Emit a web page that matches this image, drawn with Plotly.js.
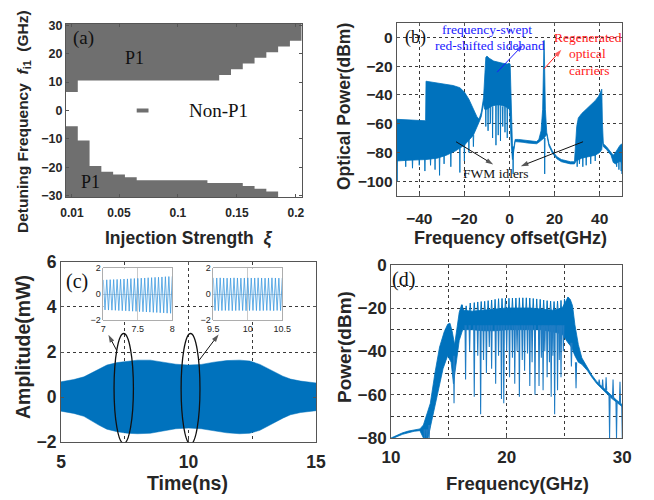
<!DOCTYPE html>
<html><head><meta charset="utf-8">
<script src="https://cdn.plot.ly/plotly-3.0.1.min.js"></script>
<style>html,body{margin:0;padding:0;background:#fff}#chart{width:654px;height:500px}</style>
</head><body><div id="chart"></div>
<script>
// ---------- (a) P1 map: injection strength columns and P1 region edges (GHz)
const xiCols = [0.01,0.02,0.03,0.04,0.05,0.06,0.07,0.08,0.09,0.10,0.11,0.12,0.13,0.14,0.15,0.16,0.17,0.18,0.19,0.20];
const p1UpperEdge = [6.5,10.5,10.5,10.5,10.5,10.5,10.5,10.5,10.5,10.5,10.5,10.5,10.5,12.5,14.5,16.5,18.5,20.5,22.5,24.5];
const p1LowerEdge = [-5.5,-10.5,-19.5,-21.5,-22.5,-23.5,-24.5,-24.5,-24.5,-24.5,-24.5,-24.5,-25.5,-25.5,-25.5,-26.5,-27.5,-28.5,-30.5,-30.5];
const p1IsleXi = 0.07, p1IsleF = 0;
const fLimit = 30.5;

// ---------- (b) optical spectrum envelopes (GHz, dBm)
const bUpX = [-50,-45,-40,-37.2,-37,-35,-32,-28,-25,-22,-20,-18,-16,-14.5,-13.5,-12.5,-11.5,-11,-10.5,-10,-9,-7,-5,-3,-1,0,0.3,0.8,1.3,1.8,2.5,4,6,8,10,12,13,14,14.7,15.1,15.3,15.5,15.9,16.5,17.5,19,21,23,25,27,28.8,29.2,29.8,30.5,32,34,36,38,39.5,40.5,40.9,41.2,41.6,43,45,46,47,48,49,50];
const bUpY = [-57,-57.5,-58,-58,-30.5,-31,-32,-33,-33.5,-35,-38,-43,-50,-55,-57,-52,-42,-22,-14,-13,-14.5,-16.5,-17.5,-18,-18.5,-18,-19,-55,-75,-78,-71,-71,-71.5,-72,-72.5,-72.5,-71,-65,-50,-15,-2,-15,-50,-66,-74,-79,-83,-85,-86,-86.5,-86.5,-75,-62,-56,-53,-50,-47,-44,-41,-37,-36,-60,-74,-76,-80,-82,-80,-77,-75,-74];
const bLoX = [-50,-45,-40,-37.2,-37,-32,-28,-24,-20,-16,-14,-13.5,-12.5,-11.5,-11,-10,-8,-6,-4,-2,0,0.3,0.8,1.3,1.8,2.5,4,6,8,10,12,13,14,15.3,16.5,17.5,19,21,23,25,27,28.8,29.5,32,35,38,40,40.9,41.2,41.6,43,45,46,47,48,49,50];
const bLoY = [-86,-85.5,-85,-85,-85,-84,-82,-79,-75,-68,-61,-59,-55,-46,-50,-50,-48,-47,-47,-48,-50,-60,-75,-85,-80,-72.5,-72.5,-73,-73.5,-74,-74,-73,-72,-70,-67.5,-75.5,-80.5,-84.5,-86.5,-87.5,-88,-88,-86,-84,-83,-82,-80,-78,-72,-76,-78,-82,-87,-88,-87,-86,-88];
const bSpikeX = [-49.8,-46,-43,-40,-37.5,-35,-33,-31,-29,-26,-22,-20,-18,-16,-10.5,-9.5,-8.5,-7.5,-6,-5,-4,-3,-2,-1,1.6,15.6,30,31,32.5,34,36,38,47.5,48.5,49.5,49.9];
const bSpikeTip = [-100,-90,-91,-89,-93,-89,-92,-96,-88,-90,-94,-86,-80,-76,-62,-65,-60,-70,-75,-68,-72,-62,-66,-70,-95,-95,-90,-88,-90,-89,-88,-86,-90,-92,-93,-95];
const bSpikeBase = [-84,-84,-84,-84,-84,-83,-83,-82,-81,-80,-76,-74,-71,-68,-48,-48,-48,-48,-47,-47,-47,-48,-48,-49,-76,-70,-84,-84,-83,-83,-82,-81,-86,-85,-84,-84];

// ---------- (c) time-domain envelope (ns, mW) and inset samples
const cEnvX = [5,5.5,5.9,6.2,6.5,6.8,7.2,7.6,8,8.5,9,9.5,10,10.5,11,11.5,12,12.4,12.8,13.1,13.4,13.7,14,14.4,15];
const cEnvTop = [0.68,0.78,0.9,1.08,1.26,1.42,1.53,1.6,1.64,1.64,1.56,1.46,1.42,1.45,1.55,1.62,1.64,1.6,1.45,1.27,1.1,0.93,0.8,0.71,0.63];
const cEnvBot = [-0.62,-0.72,-0.85,-1.05,-1.25,-1.42,-1.53,-1.6,-1.62,-1.6,-1.5,-1.4,-1.37,-1.4,-1.5,-1.58,-1.62,-1.6,-1.47,-1.3,-1.1,-0.93,-0.78,-0.68,-0.6];
const inset1T0 = 7, inset2T0 = 9.5, insetDt = 0.025;
const inset1Amp = [1.1,-1.22,1.11,-1.23,1.12,-1.24,1.13,-1.25,1.14,-1.27,1.15,-1.28,1.17,-1.29,1.18,-1.31,1.2,-1.32,1.21,-1.33,1.22,-1.35,1.24,-1.36,1.25,-1.38,1.27,-1.39,1.28,-1.41,1.3,-1.42,1.31,-1.44,1.33,-1.45,1.35,-1.47,1.36,-1.48,1.38];
const inset2Amp = [1.26,-1.27,1.25,-1.28,1.26,-1.27,1.25,-1.26,1.24,-1.27,1.25,-1.28,1.26,-1.27,1.25,-1.26,1.24,-1.27,1.25,-1.28,1.26,-1.27,1.25,-1.26,1.25,-1.27,1.26,-1.28,1.25,-1.27,1.24,-1.26,1.25,-1.27,1.26,-1.28,1.25,-1.26,1.24,-1.27,1.25];

// ---------- (d) electrical spectrum envelopes (GHz, dBm)
const dUpX = [10,10.5,11,11.5,12,12.5,12.8,13.0,13.4,13.8,14.2,14.6,14.9,15.1,15.3,15.5,15.7,15.9,16.1,16.3,17,18,19,20,21,22,23,24,24.8,25.1,25.3,25.5,25.7,25.9,26.2,26.5,27,27.35,27.8,28.22,28.6,29.08,29.5,30];
const dUpY = [-80,-78.8,-77.6,-76.8,-76.2,-75.8,-74,-71,-64,-50,-38,-31,-27.5,-27,-31,-37,-30,-22,-18.5,-21,-21.5,-21,-20.5,-20,-20,-20,-20.5,-21,-20,-17,-15,-16,-19,-27.7,-36.9,-43,-48,-50.8,-54,-56.1,-58.2,-60.7,-62.5,-64.6];
const dLoX = [10,10.5,11,11.5,12,12.5,12.8,13.2,13.5,14,14.5,14.9,15.2,15.4,15.6,15.9,16.2,17,18,19,20,21,22,23,24,24.8,25.3,25.6,25.9,26.2,26.5,27,27.35,27.8,28.22,28.6,29.08,29.5,30];
const dLoY = [-80.6,-79.4,-78.3,-77.5,-76.9,-76.6,-80,-80,-72,-60,-48,-42,-45,-55,-48,-35,-30,-30,-30.5,-30.5,-30,-30,-30,-30,-31,-32,-36,-38,-42,-45,-46,-49,-51.8,-55,-57.1,-59.2,-61.7,-63.5,-65.6];
const dPeakX = [16.15,16.5,16.85,17.2,17.5,17.8,18.1,18.4,18.7,19.0,19.3,19.6,19.9,20.2,20.5,20.8,21.1,21.4,21.7,22.0,22.3,22.6,22.9,23.2,23.5,23.8,24.1,24.4,24.7,25.0,25.3];
const dPeakTip = [-18.5,-19,-17.7,-17.5,-17.2,-17,-16.9,-16.6,-16.3,-16,-15.7,-15.6,-15.5,-15.5,-15.4,-15.4,-15.3,-15.3,-15.3,-15.4,-15.6,-15.8,-16,-16.3,-16.6,-16.8,-17,-16.8,-16.5,-15.8,-15];
const dPeakBase = [-22,-22,-22,-22,-22,-22,-22,-22,-22,-22,-22,-22,-22,-22,-22,-22,-22,-22,-22,-22,-22,-22,-22,-22,-22,-22,-22,-22,-22,-22,-22];
const dSpikeX = [12.9,13.1,13.3,15.45,16.45,16.8,17.2,17.5,17.75,18.0,18.25,18.5,18.7,19.05,19.3,19.55,19.75,20.0,20.25,20.5,20.7,20.9,21.1,21.35,21.55,21.8,22.0,22.2,22.45,22.8,23.0,23.15,23.3,23.5,23.7,23.85,24.0,24.15,24.4,24.55,24.7,24.9,25.6,26.0,28.0,28.3,28.6,28.9,29.2,29.5,29.8,30.0];
const dSpikeTip = [-80,-80,-80,-64,-53,-40,-61,-42,-69,-44,-50,-38,-48,-55,-42,-62,-64,-40,-52,-43,-55,-40,-61,-44,-49,-41,-56,-45,-60,-56,-43,-58,-40,-52,-45,-61,-42,-69,-58,-44,-52,-40,-47,-57,-53,-53,-52,-80,-53,-80,-54,-80];
const dSpikeBase = [-76,-76,-74,-42,-28,-28,-28,-28,-28,-28,-28,-28,-28,-28,-28,-28,-28,-28,-28,-28,-28,-28,-28,-28,-28,-28,-28,-28,-28,-28,-28,-28,-28,-28,-28,-28,-28,-28,-28,-28,-28,-28,-36,-45,-55,-57,-58,-60,-62,-63,-64,-65];

// ---------- helpers
const BLUE = '#0072BD', GRAY = '#6f6f6f', INK = '#262626';
const W = 654, H = 500;
const xd = (l, r) => [l / W, r / W];
const yd = (t, b) => [1 - b / H, 1 - t / H];

function band(ux, uy, lx, ly) {
  return { x: ux.concat(lx.slice().reverse()), y: uy.concat(ly.slice().reverse()) };
}
function spikes(xs, tips, bases, hw) {
  const x = [], y = [];
  xs.forEach((v, i) => { x.push(v - hw, v, v + hw, null); y.push(bases[i], tips[i], bases[i], null); });
  return { x, y };
}
function stepRegion(edges, cap) {
  const half = (xiCols[1] - xiCols[0]) / 2;
  const x = [], y = [];
  xiCols.forEach((c, i) => { x.push(c - half, c + half); y.push(edges[i], edges[i]); });
  x.push(xiCols[xiCols.length - 1] + half, xiCols[0] - half);
  y.push(cap, cap);
  return { x, y };
}

const topReg = stepRegion(p1UpperEdge, fLimit);
const botReg = stepRegion(p1LowerEdge, -fLimit);
const colHalf = (xiCols[1] - xiCols[0]) / 2;
const bBand = band(bUpX, bUpY, bLoX, bLoY);
const bSp = spikes(bSpikeX, bSpikeTip, bSpikeBase, 0.15);
const cBand = band(cEnvX, cEnvTop, cEnvX, cEnvBot);
const dBand = band(dUpX, dUpY, dLoX, dLoY);
const dSp = spikes(dSpikeX, dSpikeTip, dSpikeBase, 0.05);
const dPk = spikes(dPeakX, dPeakTip, dPeakBase, 0.06);

const traces = [
  { x: topReg.x, y: topReg.y, xaxis: 'x', yaxis: 'y', mode: 'lines', fill: 'toself', fillcolor: GRAY, line: { width: 0 }, hoverinfo: 'skip' },
  { x: botReg.x, y: botReg.y, xaxis: 'x', yaxis: 'y', mode: 'lines', fill: 'toself', fillcolor: GRAY, line: { width: 0 }, hoverinfo: 'skip' },
  { x: [p1IsleXi - colHalf, p1IsleXi + colHalf, p1IsleXi + colHalf, p1IsleXi - colHalf],
    y: [p1IsleF - 0.7, p1IsleF - 0.7, p1IsleF + 0.7, p1IsleF + 0.7],
    xaxis: 'x', yaxis: 'y', mode: 'lines', fill: 'toself', fillcolor: GRAY, line: { width: 0 }, hoverinfo: 'skip' },

  { x: bBand.x, y: bBand.y, xaxis: 'x2', yaxis: 'y2', mode: 'lines', fill: 'toself', fillcolor: BLUE, line: { color: BLUE, width: 0.8 } },
  { x: bSp.x, y: bSp.y, xaxis: 'x2', yaxis: 'y2', mode: 'lines', line: { color: BLUE, width: 0.9 } },

  { x: cBand.x, y: cBand.y, xaxis: 'x3', yaxis: 'y3', mode: 'lines', fill: 'toself', fillcolor: BLUE, line: { color: BLUE, width: 0.5 } },

  { x0: inset1T0, dx: insetDt, y: inset1Amp, xaxis: 'x5', yaxis: 'y5', mode: 'lines', line: { color: '#3f9be0', width: 0.8 } },
  { x0: inset2T0, dx: insetDt, y: inset2Amp, xaxis: 'x6', yaxis: 'y6', mode: 'lines', line: { color: '#3f9be0', width: 0.8 } },

  { x: dBand.x, y: dBand.y, xaxis: 'x4', yaxis: 'y4', mode: 'lines', fill: 'toself', fillcolor: BLUE, line: { color: BLUE, width: 0.8 } },
  { x: dPk.x, y: dPk.y, xaxis: 'x4', yaxis: 'y4', mode: 'lines', line: { color: BLUE, width: 1 } },
  { x: dSp.x, y: dSp.y, xaxis: 'x4', yaxis: 'y4', mode: 'lines', line: { color: '#1f7cc4', width: 1.1 } }
];

// arrows drawn as line traces with an oriented arrow marker at the head
function arrowTrace(xa, ya, tx, ty, hx, hy, color) {
  traces.push({ x: [tx, hx], y: [ty, hy], xaxis: xa, yaxis: ya, mode: 'lines+markers', hoverinfo: 'skip',
    line: { color, width: 1 },
    marker: { symbol: ['circle', 'arrow'], size: [0, 8], color, angleref: 'previous', line: { width: 0 } } });
}
arrowTrace('x2', 'y2', -5.5, -24.2, 6.0, -5.2, '#1a1aff');
arrowTrace('x2', 'y2', 15.3, -21.9, 23.0, -8.6, '#ff1a1a');
arrowTrace('x2', 'y2', -23.7, -72.6, -7.2, -88.4, '#111');
arrowTrace('x2', 'y2', 32.6, -72.6, 5.0, -89.6, '#111');
arrowTrace('x3', 'y3', 7.18, 2.08, 6.86, 2.76, '#111');
arrowTrace('x3', 'y3', 10.42, 1.64, 11.18, 2.78, '#111');

function ax(extra, fs) {
  return Object.assign({
    showline: true, linecolor: '#555', linewidth: 1, mirror: 'ticks',
    ticks: 'inside', ticklen: 3, tickcolor: '#555',
    zeroline: false, showgrid: false,
    tickfont: { family: 'Liberation Sans, Arial, sans-serif', size: fs, color: INK, weight: 'bold' }
  }, extra);
}
const gridOn = { showgrid: true, gridcolor: '#3a3a3a', gridwidth: 1, griddash: 'dot' };
const minorGrid = v => ({ tickvals: v, showgrid: true, gridcolor: '#3a3a3a', griddash: 'dot', ticks: '' });
const insetAx = (extra) => Object.assign({ showline: true, mirror: true, linecolor: '#999', linewidth: 0.8, ticks: '',
  showgrid: true, gridcolor: '#bdbdbd', gridwidth: 0.8, zeroline: false,
  tickfont: { family: 'Liberation Sans, Arial', size: 9, color: INK } }, extra);

const layout = {
  width: W, height: H, margin: { l: 0, r: 0, t: 0, b: 0 },
  paper_bgcolor: '#fff', plot_bgcolor: '#fff', showlegend: false,
  xaxis: ax({ domain: xd(66, 301.7), anchor: 'y', range: [0.005, 0.205], tickvals: [0.01, 0.05, 0.1, 0.15, 0.2], ticktext: ['0.01', '0.05', '0.1', '0.15', '0.2'], ticklabelstandoff: 5 }, 12),
  yaxis: ax({ domain: yd(24, 197), anchor: 'x', range: [-30.4, 30.4], tickvals: [-30, -20, -10, 0, 10, 20, 30] }, 12.5),

  xaxis2: ax(Object.assign({ domain: xd(396.7, 622.3), anchor: 'y2', range: [-50, 50], tickvals: [-40, -20, 0, 20, 40], ticklabelstandoff: 9 }, gridOn), 15.5),
  yaxis2: ax(Object.assign({ domain: yd(23, 195.5), anchor: 'x2', range: [-110, 10], tickvals: [-100, -80, -60, -40, -20, 0] }, gridOn), 15.5),

  xaxis3: ax(Object.assign({ domain: xd(61, 316), anchor: 'y3', range: [5, 15], tickvals: [5, 10, 15], minor: minorGrid([7.5, 12.5]), ticklabelstandoff: 4 }, gridOn), 17.5),
  yaxis3: ax(Object.assign({ domain: yd(261.7, 442.3), anchor: 'x3', range: [-2, 6], tickvals: [-2, 0, 2, 4, 6] }, gridOn), 17.5),

  xaxis4: ax(Object.assign({ domain: xd(391, 622.3), anchor: 'y4', range: [10, 30], tickvals: [10, 20, 30], minor: minorGrid([15, 25]), ticklabelstandoff: 4 }, gridOn), 17),
  yaxis4: ax(Object.assign({ domain: yd(264.7, 438), anchor: 'x4', range: [-80, 0], tickvals: [-80, -60, -40, -20, 0], minor: minorGrid([-70, -50, -30, -10]) }, gridOn), 17),

  xaxis5: insetAx({ domain: xd(103.3, 172.3), anchor: 'y5', range: [7, 8], tickvals: [7, 7.5, 8] }),
  yaxis5: insetAx({ domain: yd(268.3, 320), anchor: 'x5', range: [-2, 2], tickvals: [-2, 0, 2] }),
  xaxis6: insetAx({ domain: xd(213.3, 282.3), anchor: 'y6', range: [9.5, 10.5], tickvals: [9.5, 10, 10.5] }),
  yaxis6: insetAx({ domain: yd(268.3, 320), anchor: 'x6', range: [-2, 2], tickvals: [-2, 0, 2] }),

  shapes: [
    { type: 'circle', xref: 'x3', yref: 'y3', x0: 7.08, x1: 7.84, y0: -2.05, y1: 2.82, line: { color: '#111', width: 1.3 } },
    { type: 'circle', xref: 'x3', yref: 'y3', x0: 9.71, x1: 10.45, y0: -2.08, y1: 2.82, line: { color: '#111', width: 1.3 } }
  ],
  annotations: []
};

const serif = 'Liberation Serif, Times New Roman, serif';
const sans = 'Liberation Sans, Arial, sans-serif';
const A = layout.annotations;
function txt(xref, yref, x, y, text, size, color) {
  A.push({ xref, yref, x, y, text, showarrow: false, font: { family: serif, size, color } });
}
function title(px, py, text, size, angle) {
  A.push({ xref: 'paper', yref: 'paper', x: px / W, y: 1 - py / H, text, showarrow: false, textangle: angle || 0,
           xanchor: 'center', yanchor: 'middle', font: { family: sans, size, color: INK, weight: 'bold' } });
}
const ital = (s, size) => '<span style="font-style:italic;font-size:' + size + 'px">' + s + '</span>';

// (a) labels
txt('x', 'y', 0.0197, 25.4, '(a)', 19, '#111');
txt('x', 'y', 0.0627, 18.4, 'P1', 18, '#111');
txt('x', 'y', 0.0254, -25.3, 'P1', 18, '#111');
txt('x', 'y', 0.134, 0, 'Non-P1', 19, '#111');
// (b) labels
txt('x2', 'y2', -41.5, 0, '(b)', 18, '#111');
txt('x2', 'y2', -10, 5.6, 'frequency-swept', 13.5, '#1a1aff');
txt('x2', 'y2', -8.6, -5.5, 'red-shifted sideband', 13.5, '#1a1aff');
txt('x2', 'y2', 34.6, 0.2, 'Regenerated', 13.5, '#ff1a1a');
txt('x2', 'y2', 34.6, -11.3, 'optical', 13.5, '#ff1a1a');
txt('x2', 'y2', 35.2, -23, 'carriers', 13.5, '#ff1a1a');
txt('x2', 'y2', -6, -95, 'FWM idlers', 13.5, '#111');
// (c) / (d) labels
txt('x3', 'y3', 5.62, 5.12, '(c)', 20, '#111');
txt('x4', 'y4', 11.05, -7, '(d)', 20, '#111');

// axis titles
title(23, 122, 'Detuning Frequency  ' + ital('f', 15.5) + '<sub>i1</sub>  (GHz)', 15.5, -90);
title(188, 238, 'Injection Strength  ' + ital('ξ', 17.5), 17.5);
title(344, 107, 'Optical Power(dBm)', 17.5, -90);
title(510, 238, 'Frequency offset(GHz)', 18);
title(23, 347, 'Amplitude(mW)', 19.5, -90);
title(187, 483, 'Time(ns)', 19.5);
title(344, 347, 'Power(dBm)', 19, -90);
title(517, 483, 'Frequency(GHz)', 18.5);

Plotly.newPlot('chart', traces, layout, { staticPlot: true, displayModeBar: false });
</script>
</body></html>
